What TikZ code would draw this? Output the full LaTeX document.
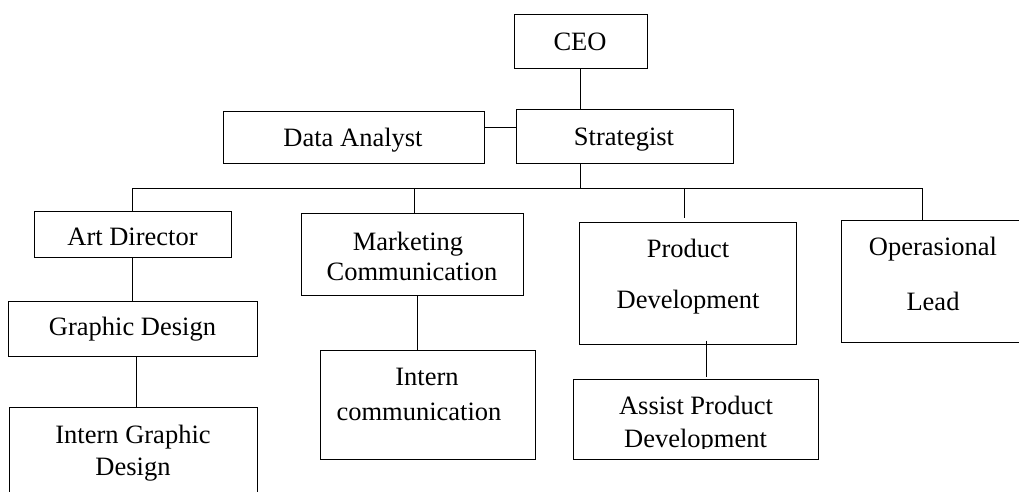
\documentclass[tikz,border=0pt]{standalone}
\usepackage{fontspec}
\setmainfont{Liberation Serif}
\begin{document}
\begin{tikzpicture}[x=1pt,y=-1pt,
  box/.style={draw=black, line width=1pt, inner sep=0pt, minimum width=#1},
  txt/.style={anchor=base, inner sep=0pt, font=\fontsize{26.5}{30}\selectfont},
  link/.style={draw=black, line width=1pt}]
\useasboundingbox (0,0) rectangle (1019,491);
\clip (0,0) rectangle (1019,491);

% boxes
\node[box=133, minimum height=54] (ceo)   at (580.5,41)  {};
\node[box=217, minimum height=54] (strat) at (624.5,136) {};
\node[box=261, minimum height=52] (data)  at (353.5,137) {};
\node[box=197, minimum height=46] (art)   at (132.5,234) {};
\node[box=222, minimum height=82] (mkt)   at (412,254)   {};
\node[box=217, minimum height=122] (prod) at (687.5,283) {};
\node[box=200, minimum height=122] (ops)  at (941,281)   {};
\node[box=249, minimum height=55] (gfx)   at (132.5,328.5) {};
\node[box=248, minimum height=96] (igfx)  at (133,455)   {};
\node[box=215, minimum height=109] (icom) at (427.5,404.5) {};
\node[box=245, minimum height=80] (apd)   at (695.5,419) {};

% labels
\node[txt] (tceo)   at (580,50)  {CEO};
\node[txt] (tstrat) at (624,145) {Strategist};
\node[txt] (tdata)  at (353,146) {Data Analyst};
\node[txt] (tart)   at (132.5,245) {Art Director};
\node[txt] (tmkt1)  at (408,250) {Marketing};
\node[txt] (tmkt2)  at (412,280) {Communication};
\node[txt] (tprod1) at (688,257) {Product};
\node[txt] (tprod2) at (688,308) {Development};
\node[txt] (tops1)  at (933,255) {Operasional};
\node[txt] (tops2)  at (933,310) {Lead};
\node[txt] (tgfx)   at (132.5,335) {Graphic Design};
\node[txt] (tigfx1) at (133,443) {Intern Graphic};
\node[txt] (tigfx2) at (133,475) {Design};
\node[txt] (ticom1) at (427,385) {Intern};
\node[txt] (ticom2) at (419,420) {communication};
\node[txt] (tapd1)  at (696,414) {Assist Product};
\begin{scope}
  \clip (600,420) rectangle (800,448.5);
  \node[txt] (tapd2) at (695.5,447) {Development};
\end{scope}

% connector points
\coordinate (busL) at (132,188);
\coordinate (busR) at (922,188);
\coordinate (daJ)  at (484,127);
\coordinate (prodDrop) at (684,218);
\coordinate (apdTop)   at (706,377);

% connectors
\draw[link] (ceo.south -| 580,0) -- (strat.north -| 580,0);
\draw[link] (data.east |- daJ) -- (strat.west |- daJ);
\draw[link] (strat.south -| 580,0) -- (busL -| 580,0);
\draw[link] (busL) -- (busR);
\draw[link] (busL) -- (art.north -| busL);
\draw[link] (busL -| 414,0) -- (mkt.north -| 414,0);
\draw[link] (busL -| prodDrop) -- (prodDrop);
\draw[link] (busR) -- (ops.north -| busR);
\draw[link] (art.south -| busL) -- (gfx.north -| busL);
\draw[link] (gfx.south -| 136,0) -- (igfx.north -| 136,0);
\draw[link] (mkt.south -| 417,0) -- (icom.north -| 417,0);
\draw[link] (prod.south -| apdTop) ++(0,-4) -- (apdTop);
\end{tikzpicture}
\end{document}
